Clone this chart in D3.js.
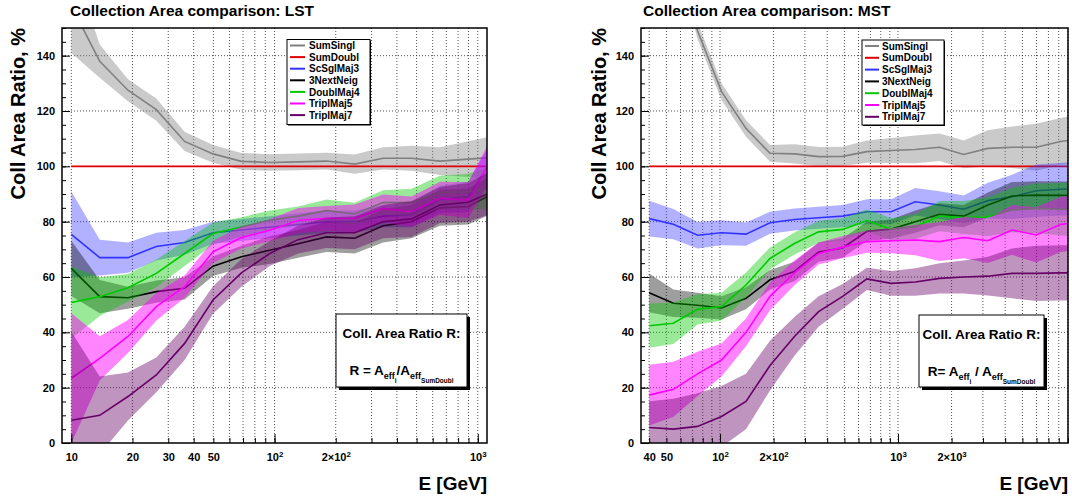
<!DOCTYPE html>
<html><head><meta charset="utf-8">
<script src="https://cdn.jsdelivr.net/npm/d3@7"></script>
<style>
body{margin:0;background:#fff}
svg text{font-family:"Liberation Sans",Arial,Helvetica,sans-serif;font-weight:bold;fill:#000}
</style>
</head><body>
<svg id="c" width="1072" height="498"></svg>
<script>
// ---------------- DATA ----------------
const seriesNames = ["SumSingl","SumDoubl","ScSglMaj3","3NextNeig","DoublMaj4","TriplMaj5","TriplMaj7"];
const seriesColors = ["#808080","#e00000","#3333ff","#000000","#00c800","#ff00ff","#660066"];
const bandOpacity = [0.42,0,0.38,0.38,0.4,0.48,0.42];

const yTickValues = [0,20,40,60,80,100,120,140];

// LST panel
const lstEnergy = [10,13.8,19.0,26.2,36.1,49.8,68.7,94.7,130.6,180,248,342,472,651,898,1238];
const lstSumSingl    = [158,138,127.5,120.5,109,104.5,101.8,101.4,101.6,101.9,100.8,102.9,102.9,101.9,102.6,103.3];
const lstSumSinglErr = [17,6,4,4,3.5,3.2,3,3,3,3,3.5,4,4.5,5,6.5,8];
const lstSumDoubl    = [100,100,100,100,100,100,100,100,100,100,100,100,100,100,100,100];
const lstSumDoublErr = [0,0,0,0,0,0,0,0,0,0,0,0,0,0,0,0];
const lstScSglMaj3    = [75.4,67,67,71,72.5,76,77,78,79,80,80,82,82.5,88,89,105];
const lstScSglMaj3Err = [15.5,6.5,5.5,5,4.5,4,4,4,4,4,4,4,4.5,5,5.5,7];
const lst3NextNeig    = [63.1,52.9,52.5,54.7,55.9,63.9,67.3,69.7,72,74.5,74,78.5,80,85,85.5,90.8];
const lst3NextNeigErr = [10,6,4,4,4,3.5,4,5,5,5.5,5.5,6,6,6.5,6.5,7];
const lstDoublMaj4    = [50.8,52.9,56.1,61.3,68.5,75.7,78.1,80.5,82,84,82.8,86.9,86.9,90.6,90.8,92.6];
const lstDoublMaj4Err = [13,7,5,5,4.5,4,3.5,3.5,3.5,4,4,4.5,5,6,6.5,8];
const lstTriplMaj5    = [23.4,30.6,38.5,49.3,56.5,69.1,74.3,76.9,80.4,81.2,81.2,84.8,83.6,88.4,87.8,106];
const lstTriplMaj5Err = [23.5,8,6,5,4,4,4,4,4.5,4.5,5,5,5.5,6,6.5,8];
const lstTriplMaj7    = [8.2,10,16.8,24.6,36,51.7,61.5,68.5,73.5,76,76,80,81,86,87,91.5];
const lstTriplMaj7Err = [32,14,8.7,6.3,6,5,5,4.5,5,5.5,6,6,6.5,6.5,7,8];
const lstTickValues = [10,20,30,40,50,100,200,1000];
const lstTickLabels = ["10","20","30","40","50","10^2","2×10^2","10^3"];

// MST panel
const mstEnergy = [40,54.7,74.8,102,140,191,262,358,489,669,915,1251,1711,2339,3198,4373,5979,8176,11180];
const mstSumSingl    = [215,185,149,127,113.7,104.7,104.5,103.5,103.6,105.3,105.7,106.1,106.9,104.3,106.5,106.9,106.9,109,110];
const mstSumSinglErr = [10,6,3,3,3,3,3.5,3.5,3.5,4,4.5,5,5,5,6.5,7.5,8.5,8.5,9];
const mstSumDoubl    = [100,100,100,100,100,100,100,100,100,100,100,100,100,100,100,100,100,100,100];
const mstSumDoublErr = [0,0,0,0,0,0,0,0,0,0,0,0,0,0,0,0,0,0,0];
const mstScSglMaj3    = [81.1,79.1,75.1,76,75.5,79.6,80.8,81.4,82,83.6,83.6,87.2,86,84.5,87.6,89,91.2,91.7,92];
const mstScSglMaj3Err = [6.5,5.5,4.8,4.5,4.2,4,4,4,4,4.5,4.5,5,5,5,6.5,8,9.5,9.5,10];
const mst3NextNeig    = [54.3,50.5,49.8,48.8,52.3,59,62,69,70.5,76.5,77.3,80,82.7,82,86,89.3,89.6,89.5,89.5];
const mst3NextNeigErr = [7,5,4.5,4.2,4,3.5,3.5,3.5,3.5,3.5,3.5,4,4,4,4.5,5,5,5,5];
const mstDoublMaj4    = [42.4,43.3,48.3,49.3,57.1,66.7,72.1,76.3,77.2,80.4,77.3,78.2,82,81.5,81.8,84.2,84.8,84.5,84.5];
const mstDoublMaj4Err = [8,7.5,5.5,5,4.5,4,4,4,4,4,4,4.5,5.5,6,7,8,9,9.5,10];
const mstTriplMaj5    = [17.3,19.4,25,30,40,53,61.5,68.5,70.8,72.8,73.1,73.4,72.8,74.3,73.1,77,75.2,79,80];
const mstTriplMaj5Err = [11,10,8,6,5,5,4.5,4,4,4,4.5,5.5,7,7.5,8,9,10,10,10];
const mstTriplMaj7    = [5.6,5,6,9.6,15,28,38.5,47.5,53,59.3,57.7,58.2,59.5,60,60.3,61.3,61.3,61.5,61.5];
const mstTriplMaj7Err = [9.5,11,12,11,10,9,7,5.5,4.5,4,4.5,5,5.5,6,7,9,10,10,10];
const mstTickValues = [40,50,100,200,1000,2000];
const mstTickLabels = ["40","50","10^2","2×10^2","10^3","2×10^3"];

// ---------------- LAYOUT ----------------
const panels = [
  { id:"lst", title:"Collection Area comparison: LST", titleX:70,
    frame:{x0:62,x1:487,y0:28,y1:443}, xDomain:[9,1110],
    energy:lstEnergy,
    values:[lstSumSingl,lstSumDoubl,lstScSglMaj3,lst3NextNeig,lstDoublMaj4,lstTriplMaj5,lstTriplMaj7],
    errors:[lstSumSinglErr,lstSumDoublErr,lstScSglMaj3Err,lst3NextNeigErr,lstDoublMaj4Err,lstTriplMaj5Err,lstTriplMaj7Err],
    tickValues:lstTickValues, tickLabels:lstTickLabels, yTitleX:25,
    legend:{x:287,y:39.5,w:83,h:85,row0:45.5,step:11.6,lx0:290,lx1:305,tx:309,fs:10},
    box:{x:336,y:314,w:131,h:73},
    formula:[["R = A",0],["eff",1],["i",2],["/A",0],["eff",1],["SumDoubl",2]] },
  { id:"mst", title:"Collection Area comparison: MST", titleX:643,
    frame:{x0:641,x1:1068,y0:28,y1:443}, xDomain:[36,9016],
    energy:mstEnergy,
    values:[mstSumSingl,mstSumDoubl,mstScSglMaj3,mst3NextNeig,mstDoublMaj4,mstTriplMaj5,mstTriplMaj7],
    errors:[mstSumSinglErr,mstSumDoublErr,mstScSglMaj3Err,mst3NextNeigErr,mstDoublMaj4Err,mstTriplMaj5Err,mstTriplMaj7Err],
    tickValues:mstTickValues, tickLabels:mstTickLabels, yTitleX:606,
    legend:{x:862,y:40,w:82,h:85,row0:46,step:11.8,lx0:865,lx1:879,tx:882,fs:10},
    box:{x:919,y:315,w:125,h:72},
    formula:[["R= A",0],["eff",1],["i",2],[" / A",0],["eff",1],["SumDoubl",2]] }
];

const svg = d3.select("#c");

function writeSup(sel){
  sel.each(function(){
    const t = d3.select(this); const s = t.text();
    if(s.indexOf("^")<0) return;
    const parts = s.split("^");
    t.text(null);
    t.append("tspan").text(parts[0]);
    t.append("tspan").attr("dy","-0.45em").attr("font-size","0.72em").text(parts[1]);
  });
}

panels.forEach(p=>{
  const f = p.frame;
  const x = d3.scaleLog().domain(p.xDomain).range([f.x0,f.x1]);
  const y = d3.scaleLinear().domain([0,150]).range([f.y1,f.y0]);
  const g = svg.append("g");

  svg.append("clipPath").attr("id","clip-"+p.id).append("rect")
    .attr("x",f.x0).attr("y",f.y0).attr("width",f.x1-f.x0).attr("height",f.y1-f.y0);

  const minor = [];
  for(let e=0;e<5;e++) for(let m=1;m<10;m++){ const v=m*Math.pow(10,e); if(v>p.xDomain[0]*1.001 && v<p.xDomain[1]*0.999) minor.push(v); }

  // grid
  const grid = g.append("g").attr("stroke","#000").attr("stroke-width",0.8).attr("stroke-dasharray","1,2").attr("opacity",0.85);
  grid.selectAll("line.v").data(minor).join("line").attr("class","v")
    .attr("x1",d=>x(d)).attr("x2",d=>x(d)).attr("y1",f.y0).attr("y2",f.y1);
  grid.selectAll("line.h").data(yTickValues.filter(v=>v>0)).join("line").attr("class","h")
    .attr("x1",f.x0).attr("x2",f.x1).attr("y1",d=>y(d)).attr("y2",d=>y(d));

  // data
  const dg = g.append("g").attr("clip-path","url(#clip-"+p.id+")");
  seriesNames.forEach((name,si)=>{
    const pts = p.energy.map((e,i)=>({e:e,v:p.values[si][i],err:p.errors[si][i]}));
    if(bandOpacity[si]>0){
      dg.append("path").datum(pts)
        .attr("d",d3.area().x(d=>x(d.e)).y0(d=>y(d.v-d.err)).y1(d=>y(d.v+d.err)))
        .attr("fill",seriesColors[si]).attr("fill-opacity",bandOpacity[si]).attr("stroke","none");
    }
    dg.append("path").datum(pts)
      .attr("d",d3.line().x(d=>x(d.e)).y(d=>y(d.v)))
      .attr("fill","none").attr("stroke",seriesColors[si]).attr("stroke-width",1.6);
  });

  // axes (ticks inside)
  const ax = g.append("g").attr("transform",`translate(${f.x0},0)`);
  ax.call(d3.axisLeft(y).tickValues(d3.range(0,151,5)).tickSize(-4).tickFormat(""));
  ax.select(".domain").remove();
  const axM = g.append("g").attr("transform",`translate(${f.x0},0)`);
  axM.call(d3.axisLeft(y).tickValues(yTickValues).tickSize(-8).tickPadding(7).tickFormat(d3.format("d")));
  axM.select(".domain").remove();
  axM.selectAll("text").attr("font-size",11).attr("font-family",null);

  const bx = g.append("g").attr("transform",`translate(0,${f.y1})`);
  bx.call(d3.axisBottom(x).tickValues(minor).tickSize(-5).tickFormat(""));
  bx.select(".domain").remove();
  const bxM = g.append("g").attr("transform",`translate(0,${f.y1})`);
  bxM.call(d3.axisBottom(x).tickValues(minor.filter(v=>Math.abs(Math.log10(v)-Math.round(Math.log10(v)))<1e-9)).tickSize(-9).tickFormat(""));
  bxM.select(".domain").remove();
  const bxL = g.append("g").attr("transform",`translate(0,${f.y1})`);
  bxL.call(d3.axisBottom(x).tickValues(p.tickValues).tickSize(0).tickPadding(10).tickFormat((d,i)=>p.tickLabels[i]));
  bxL.select(".domain").remove();
  bxL.selectAll("text").attr("font-size",11).attr("font-family",null).call(writeSup);
  g.selectAll(".tick line").attr("stroke","#000");

  // frame
  g.append("rect").attr("x",f.x0).attr("y",f.y0).attr("width",f.x1-f.x0).attr("height",f.y1-f.y0)
    .attr("fill","none").attr("stroke","#000").attr("stroke-width",1.5);

  // titles
  g.append("text").attr("x",p.titleX).attr("y",16).attr("font-size",15.5).text(p.title);
  g.append("text").attr("transform",`translate(${p.yTitleX},${f.y0}) rotate(-90)`)
    .attr("text-anchor","end").attr("font-size",20).text("Coll Area Ratio, %");
  g.append("text").attr("x",f.x1).attr("y",490).attr("text-anchor","end").attr("font-size",19).text("E [GeV]");

  // legend
  const L = p.legend;
  const lg = g.append("g");
  lg.append("rect").attr("x",L.x+1).attr("y",L.y+1).attr("width",L.w).attr("height",L.h).attr("fill","#000");
  lg.append("rect").attr("x",L.x).attr("y",L.y).attr("width",L.w).attr("height",L.h).attr("fill","#fff").attr("stroke","#000").attr("stroke-width",1);
  seriesNames.forEach((name,si)=>{
    const yy = L.row0 + si*L.step;
    lg.append("line").attr("x1",L.lx0).attr("x2",L.lx1).attr("y1",yy).attr("y2",yy)
      .attr("stroke",seriesColors[si]).attr("stroke-width",2);
    lg.append("text").attr("x",L.tx).attr("y",yy).attr("dy","0.36em").attr("font-size",L.fs).text(name);
  });

  // formula box
  const B = p.box;
  const bg = g.append("g");
  bg.append("rect").attr("x",B.x+3).attr("y",B.y+3).attr("width",B.w).attr("height",B.h).attr("fill","#000");
  bg.append("rect").attr("x",B.x).attr("y",B.y).attr("width",B.w).attr("height",B.h).attr("fill","#fff").attr("stroke","#000").attr("stroke-width",1);
  bg.append("text").attr("x",B.x+B.w/2).attr("y",B.y+24).attr("text-anchor","middle").attr("font-size",13.5).text("Coll. Area Ratio R:");
  const ft = bg.append("text").attr("x",B.x+B.w/2).attr("y",B.y+61).attr("text-anchor","middle");
  const sizes=[13.5,9,6.5], offs=[0,4,7.5];
  let cur=0;
  p.formula.forEach(([t,l])=>{
    ft.append("tspan").attr("dy",offs[l]-cur).attr("font-size",sizes[l]).text(t);
    cur=offs[l];
  });
});
</script>
</body></html>
